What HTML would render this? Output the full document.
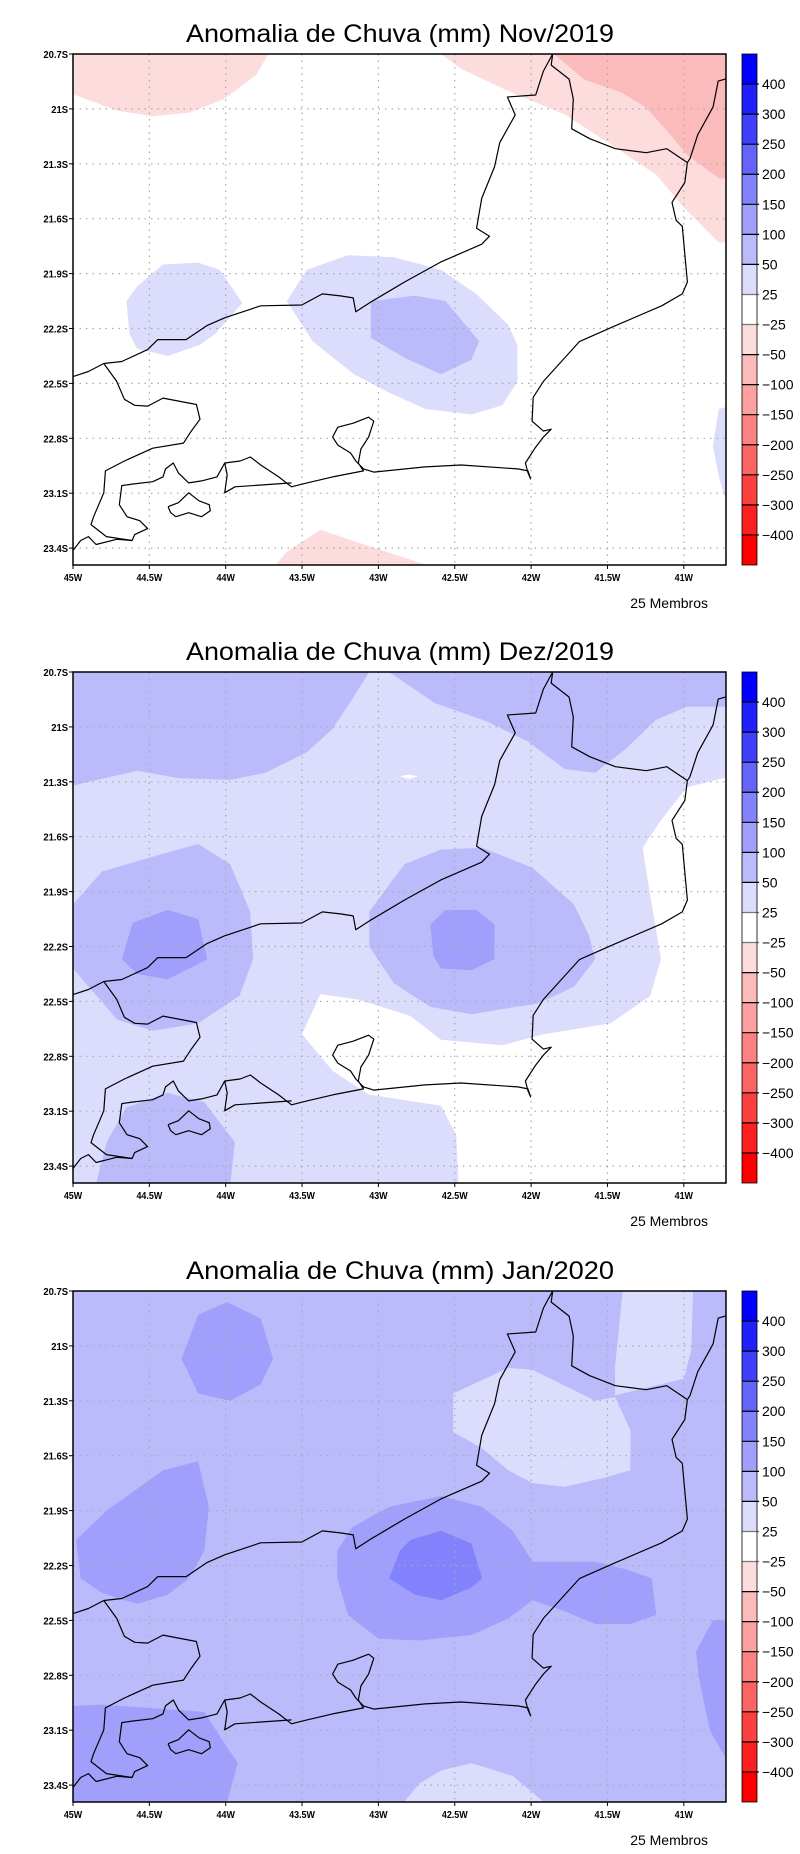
<!DOCTYPE html>
<html><head><meta charset="utf-8"><style>
body{margin:0;background:#fff;}
svg{display:block;}
</style></head><body>
<svg id="svg" width="800" height="1854" viewBox="0 0 800 1854" xmlns="http://www.w3.org/2000/svg"></svg>
<script>
// Contour level colors (index into levels): 0:<-400 ... 8:white ... 16:>400
const levelColors = ["#fc0000","#fc2020","#fc4040","#fc6464","#fc8282","#fca0a0","#fcbbbb","#fcdcdc","#ffffff","#dcdcfc","#bbbbfc","#a0a0fc","#8282fc","#6464fc","#4040fc","#2020fc","#0000fc"];
const colorbarLabels = ["400","300","250","200","150","100","50","25","-25","-50","-100","-150","-200","-250","-300","-400"];
const lonTicks = [-45,-44.5,-44,-43.5,-43,-42.5,-42,-41.5,-41];
const lonTickLabels = ["45W","44.5W","44W","43.5W","43W","42.5W","42W","41.5W","41W"];
const latTicks = [20.7,21,21.3,21.6,21.9,22.2,22.5,22.8,23.1,23.4];
const latTickLabels = ["20.7S","21S","21.3S","21.6S","21.9S","22.2S","22.5S","22.8S","23.1S","23.4S"];
const panelTitles = ["Anomalia de Chuva (mm) Nov/2019","Anomalia de Chuva (mm) Dez/2019","Anomalia de Chuva (mm) Jan/2020"];
const panelBackgroundLevel = [8, 9, 10];

// Regions: [level, [[lon,lat(S)],...]]
const novRegions = [
 [7, [[-45,20.7],[-43.72,20.7],[-43.80,20.815],[-44.01,20.946],[-44.24,21.02],[-44.48,21.04],[-44.71,21.01],[-45,20.92]]],
 [7, [[-42.59,20.7],[-42.46,20.78],[-42.155,20.90],[-41.78,21.03],[-41.45,21.21],[-41.18,21.36],[-41.01,21.53],[-40.77,21.73],[-40.6,21.73],[-40.6,20.7]]],
 [6, [[-41.85,20.7],[-41.65,20.84],[-41.41,20.91],[-41.25,20.99],[-41.11,21.12],[-40.98,21.25],[-40.77,21.38],[-40.6,21.38],[-40.6,20.7]]],
 [7, [[-43.67,23.6],[-43.67,23.49],[-43.6,23.42],[-43.38,23.30],[-43.13,23.37],[-42.69,23.49],[-42.6,23.6]]],
 [9, [[-44.65,22.05],[-44.58,21.97],[-44.41,21.85],[-44.18,21.84],[-44.04,21.88],[-43.89,22.06],[-44.07,22.23],[-44.17,22.29],[-44.38,22.35],[-44.58,22.31],[-44.63,22.23]]],
 [9, [[-43.6,22.05],[-43.47,21.88],[-43.2,21.80],[-42.90,21.81],[-42.59,21.88],[-42.36,22.01],[-42.15,22.18],[-42.09,22.29],[-42.09,22.49],[-42.19,22.62],[-42.39,22.67],[-42.69,22.64],[-42.93,22.55],[-43.16,22.45],[-43.43,22.27]]],
 [10,[[-43.05,22.05],[-42.76,22.02],[-42.56,22.05],[-42.34,22.27],[-42.39,22.37],[-42.59,22.45],[-42.83,22.36],[-43.05,22.25]]],
 [9, [[-40.6,22.6],[-40.77,22.64],[-40.81,22.84],[-40.77,23.01],[-40.7,23.21],[-40.6,23.21]]]
];
const dezRegions = [
 [10,[[-45,20.6],[-43.06,20.6],[-43.06,20.7],[-43.18,20.86],[-43.30,21.01],[-43.47,21.14],[-43.74,21.25],[-43.97,21.29],[-44.31,21.28],[-44.58,21.24],[-45,21.32]]],
 [10,[[-42.93,20.6],[-42.93,20.7],[-42.63,20.87],[-42.29,20.97],[-42.02,21.08],[-41.78,21.23],[-41.58,21.25],[-41.38,21.12],[-41.18,20.96],[-40.98,20.89],[-40.6,20.89],[-40.6,20.6]]],
 [8, [[-40.6,21.25],[-40.98,21.33],[-41.15,21.51],[-41.27,21.66],[-41.22,21.92],[-41.15,22.27],[-41.22,22.47],[-41.48,22.62],[-41.92,22.68],[-42.19,22.74],[-42.59,22.71],[-42.79,22.58],[-43.13,22.49],[-43.38,22.46],[-43.50,22.68],[-43.30,22.88],[-43.06,23.01],[-42.59,23.07],[-42.49,23.23],[-42.47,23.6],[-40.6,23.6]]],
 [8, [[-42.86,21.27],[-42.80,21.26],[-42.74,21.27],[-42.80,21.285]]],
 [10,[[-45,21.97],[-44.81,21.79],[-44.48,21.71],[-44.18,21.64],[-43.97,21.75],[-43.84,22.01],[-43.82,22.27],[-43.91,22.47],[-44.18,22.62],[-44.48,22.66],[-44.71,22.60],[-45,22.32]]],
 [11,[[-44.61,22.07],[-44.38,22.0],[-44.18,22.05],[-44.12,22.27],[-44.38,22.38],[-44.58,22.35],[-44.68,22.27]]],
 [10,[[-43.06,22.01],[-42.83,21.75],[-42.59,21.67],[-42.32,21.66],[-41.99,21.77],[-41.72,21.97],[-41.62,22.14],[-41.58,22.27],[-41.72,22.42],[-41.95,22.51],[-42.39,22.57],[-42.66,22.53],[-42.90,22.40],[-43.06,22.2]]],
 [11,[[-42.66,22.08],[-42.56,22.0],[-42.36,22.0],[-42.24,22.08],[-42.24,22.27],[-42.39,22.33],[-42.59,22.32],[-42.64,22.25]]],
 [10,[[-44.85,23.6],[-44.85,23.5],[-44.78,23.27],[-44.65,23.08],[-44.38,23.0],[-44.14,23.05],[-43.94,23.27],[-43.97,23.5],[-43.97,23.6]]]
];
const janRegions = [
 [11,[[-44.18,20.83],[-43.99,20.76],[-43.77,20.85],[-43.69,21.07],[-43.77,21.21],[-43.97,21.30],[-44.18,21.26],[-44.29,21.07]]],
 [11,[[-44.98,22.06],[-44.78,21.90],[-44.41,21.68],[-44.18,21.63],[-44.11,21.88],[-44.14,22.12],[-44.24,22.27],[-44.38,22.36],[-44.58,22.41],[-44.81,22.35],[-44.95,22.27]]],
 [9, [[-42.51,21.26],[-42.15,21.12],[-41.99,21.13],[-41.58,21.30],[-41.45,21.28],[-41.35,21.46],[-41.35,21.68],[-41.52,21.72],[-41.78,21.77],[-41.99,21.75],[-42.15,21.68],[-42.32,21.56],[-42.51,21.47]]],
 [9, [[-41.40,20.6],[-41.40,20.7],[-41.45,21.11],[-41.45,21.27],[-41.0,21.18],[-40.95,21.02],[-40.94,20.7],[-40.94,20.6]]],
 [11,[[-43.27,22.12],[-43.17,21.99],[-42.93,21.88],[-42.59,21.82],[-42.32,21.88],[-42.12,22.01],[-41.99,22.18],[-41.58,22.18],[-41.38,22.22],[-41.21,22.27],[-41.18,22.47],[-41.35,22.52],[-41.58,22.52],[-41.78,22.45],[-41.99,22.39],[-42.15,22.49],[-42.39,22.58],[-42.73,22.61],[-43.0,22.6],[-43.2,22.47],[-43.27,22.27]]],
 [12,[[-42.86,22.12],[-42.79,22.06],[-42.59,22.01],[-42.39,22.08],[-42.32,22.27],[-42.39,22.32],[-42.59,22.39],[-42.76,22.36],[-42.93,22.27]]],
 [11,[[-40.6,22.49],[-40.81,22.5],[-40.92,22.67],[-40.9,22.82],[-40.83,23.10],[-40.7,23.29],[-40.6,23.29]]],
 [11,[[-45.1,22.97],[-44.81,22.96],[-44.14,23.0],[-44.01,23.17],[-43.92,23.28],[-43.99,23.49],[-43.99,23.6],[-45.1,23.6]]],
 [9, [[-42.83,23.6],[-42.83,23.49],[-42.73,23.39],[-42.59,23.32],[-42.39,23.28],[-42.12,23.35],[-41.92,23.49],[-41.92,23.6]]]
];
const panelRegions = [novRegions, dezRegions, janRegions];

// Coastline/boundaries (traced reference geometry, converted to lon/lat)
function ll(p){ return [-45 + (p[0]-145)/297, 20.7 + (p[1]-137)/460]; }
const boundaryMG = [[145,948],[175,935],[205,915],[240,910],[290,880],[310,855],[365,855],[405,820],[440,800],[510,770],[590,768],[630,740],[665,745],[690,750],[695,785],[725,760],[790,710],[860,660],[940,615],[955,595],[930,575],[940,500],[965,420],[975,360],[1005,290],[990,245],[1045,240],[1060,180],[1078,137]].map(ll);
const boundaryES = [[1078,137],[1075,165],[1110,200],[1118,250],[1115,325],[1150,350],[1200,375],[1260,385],[1300,375],[1340,410]].map(ll);
const coastline = [[1422,197],[1400,205],[1390,270],[1360,340],[1345,400],[1340,410],[1335,460],[1310,510],[1318,555],[1330,570],[1335,640],[1340,710],[1330,740],[1290,770],[1200,820],[1130,860],[1095,910],[1060,960],[1040,1000],[1038,1060],[1060,1085],[1075,1080],[1060,1100],[1045,1125],[1025,1165],[1030,1190],[1035,1205],[1030,1185],[1010,1180],[900,1170],[830,1175],[730,1188],[710,1180],[695,1160],[685,1140],[660,1120],[650,1100],[660,1075],[690,1065],[720,1050],[730,1060],[720,1100],[705,1130],[700,1165],[710,1185],[690,1190],[650,1200],[600,1215],[570,1225],[545,1200],[510,1170],[490,1150],[470,1160],[440,1165],[425,1200],[395,1210],[370,1215],[350,1190],[340,1165],[325,1180],[320,1200],[300,1212],[260,1218],[240,1222],[235,1270],[250,1300],[275,1310],[290,1330],[265,1345],[260,1360],[230,1357],[190,1370],[175,1350],[160,1360],[145,1385]].map(ll);
const sepetiba = [[570,1215],[460,1225],[440,1240],[445,1195],[440,1165]].map(ll);
const ilhaGrande = [[330,1275],[350,1265],[370,1240],[390,1260],[410,1270],[412,1285],[395,1300],[370,1290],[345,1300],[335,1290],[330,1275]].map(ll);
const boundarySP = [[205,915],[230,960],[245,1005],[265,1020],[290,1022],[320,1002],[385,1018],[392,1055],[375,1085],[360,1115],[300,1128],[245,1160],[208,1185],[205,1240],[185,1300],[180,1320],[210,1350],[260,1360]].map(ll);
const geoLines = [boundaryMG, boundaryES, coastline, sepetiba, ilhaGrande, boundarySP];

const NS='http://www.w3.org/2000/svg';
const svg=document.getElementById('svg');
const panelTops=[54,672,1291];
const X0=73, X1=726, PXDEG=152.7, PH=511, PYDEG=183;
function mk(tag,attrs,parent){const e=document.createElementNS(NS,tag);for(const k in attrs)e.setAttribute(k,attrs[k]);(parent||svg).appendChild(e);return e;}
function xs(lon){return X0+(lon+45)*PXDEG;}

panelTitles.forEach((title,pi)=>{
  const top=panelTops[pi];
  const ys=lat=>top+(lat-20.7)*PYDEG;
  const g=mk('g',{});
  
  
  const t=mk('text',{x:400,y:top-12,'text-anchor':'middle','font-family':'Liberation Sans, sans-serif','font-size':25,textLength:428,lengthAdjust:'spacingAndGlyphs',fill:'#000'},g);
  t.textContent=title;
  
  
  const clipId='clip'+pi;
  const cp=mk('clipPath',{id:clipId},g);
  mk('rect',{x:X0,y:top,width:X1-X0,height:PH},cp);
  const mapG=mk('g',{'clip-path':'url(#'+clipId+')'},g);
  const bg=mk('rect',{x:X0,y:top,width:X1-X0,height:PH,fill:levelColors[panelBackgroundLevel[pi]]},mapG);
  
  
  panelRegions[pi].forEach(r=>{
    const p=mk('polygon',{points:r[1].map(q=>xs(q[0]).toFixed(1)+','+ys(q[1]).toFixed(1)).join(' '),fill:levelColors[r[0]]},mapG);
    
    
  });
  // grid
  lonTicks.slice(1).forEach(lon=>{
    const l=mk('line',{x1:xs(lon),x2:xs(lon),y1:top,y2:top+PH,stroke:'#aaa','stroke-width':1.2,'stroke-dasharray':'1.5,5'},mapG);
    
    
  });
  latTicks.slice(1).forEach(lat=>{
    const l=mk('line',{x1:X0,x2:X1,y1:ys(lat),y2:ys(lat),stroke:'#aaa','stroke-width':1.2,'stroke-dasharray':'1.5,5'},mapG);
    
    
  });
  geoLines.forEach(line=>{
    const pl=mk('polyline',{points:line.map(q=>xs(q[0]).toFixed(1)+','+ys(q[1]).toFixed(1)).join(' '),fill:'none',stroke:'#000','stroke-width':1.2,'stroke-linejoin':'round'},mapG);
    
    
  });
  const fr=mk('rect',{x:X0,y:top,width:X1-X0,height:PH,fill:'none',stroke:'#000','stroke-width':1.5},g);
  
  
  latTicks.forEach((lat,i)=>{
    mk('line',{x1:X0-4,x2:X0,y1:ys(lat),y2:ys(lat),stroke:'#000','stroke-width':1},g);
    const tx=mk('text',{x:X0-5,y:ys(lat)+4,'text-anchor':'end','font-family':'Liberation Sans, sans-serif','font-size':10.5,'font-weight':'bold',fill:'#000',transform:'translate('+(X0-5)+',0) scale(0.9,1) translate('+(-(X0-5))+',0)'},g);
    tx.textContent=latTickLabels[i];
    
    
  });
  lonTicks.forEach((lon,i)=>{
    mk('line',{x1:xs(lon),x2:xs(lon),y1:top+PH,y2:top+PH+4,stroke:'#000','stroke-width':1},g);
    const tx=mk('text',{x:xs(lon),y:top+PH+16,'text-anchor':'middle','font-family':'Liberation Sans, sans-serif','font-size':10.5,'font-weight':'bold',fill:'#000',transform:'translate('+xs(lon)+',0) scale(0.85,1) translate('+(-xs(lon))+',0)'},g);
    tx.textContent=lonTickLabels[i];
    
    
  });
  const mb=mk('text',{x:708,y:top+PH+43,'text-anchor':'end','font-family':'Liberation Sans, sans-serif','font-size':14,fill:'#000'},g);
  mb.textContent='25 Membros';
  
  
  // colorbar
  const cb=mk('g',{},g);
  
  
  const n=levelColors.length, bh=PH/n;
  for(let k=0;k<n;k++){
    const r=mk('rect',{x:742,y:top+k*bh,width:15,height:bh,fill:levelColors[n-1-k]},cb);
    
    
  }
  for(let k=1;k<n;k++){
    mk('line',{x1:742,x2:759,y1:top+k*bh,y2:top+k*bh,stroke:(k==8||k==9)?'#777':'#000','stroke-width':1.2},cb);
    const tx=mk('text',{x:762,y:top+k*bh+5,'font-family':'Liberation Sans, sans-serif','font-size':14,fill:'#000'},cb);
    tx.textContent=colorbarLabels[k-1].replace('-','\u2212');
    
    
  }
  mk('rect',{x:742,y:top,width:15,height:PH,fill:'none',stroke:'#000','stroke-width':0.8},cb);
});
</script>
</body></html>
